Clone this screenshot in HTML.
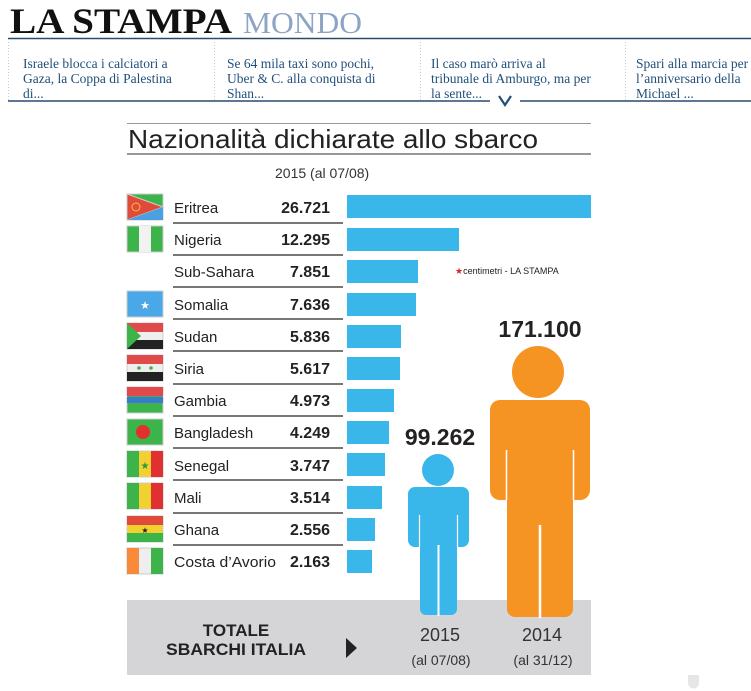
<!DOCTYPE html>
<html><head><meta charset="utf-8"><style>
body{margin:0;background:#fff;}
svg{display:block}
</style></head><body>
<svg width="751" height="691" viewBox="0 0 751 691" xmlns="http://www.w3.org/2000/svg">
<rect width="751" height="691" fill="#fff"/>
<!-- header -->
<text x="10" y="33" font-family="Liberation Serif,serif" font-weight="bold" font-size="36" textLength="222" lengthAdjust="spacingAndGlyphs" fill="#111">LA STAMPA</text>
<text x="243" y="33" font-family="Liberation Serif,serif" font-size="31" textLength="119" lengthAdjust="spacingAndGlyphs" fill="#8ea4c4">MONDO</text>
<line x1="8" y1="38.5" x2="751" y2="38.5" stroke="#2a4a6b" stroke-width="1.5"/>
<line x1="8" y1="101" x2="751" y2="101" stroke="#2a4a6b" stroke-width="1.5"/>
<g stroke="#ccc" stroke-dasharray="1,2">
<line x1="8.5" y1="42" x2="8.5" y2="100"/><line x1="214.5" y1="42" x2="214.5" y2="100"/><line x1="420.5" y1="42" x2="420.5" y2="100"/><line x1="625.5" y1="42" x2="625.5" y2="100"/>
</g>
<g font-family="Liberation Serif,serif" font-size="13.5" fill="#1f4f7a">
<text x="23" y="68">Israele blocca i calciatori a</text><text x="23" y="83">Gaza, la Coppa di Palestina</text><text x="23" y="98">di...</text>
<text x="227" y="68">Se 64 mila taxi sono pochi,</text><text x="227" y="83">Uber &amp; C. alla conquista di</text><text x="227" y="98">Shan...</text>
<text x="431" y="68">Il caso marò arriva al</text><text x="431" y="83">tribunale di Amburgo, ma per</text><text x="431" y="98">la sente...</text>
<text x="636" y="68">Spari alla marcia per</text><text x="636" y="83">l’anniversario della</text><text x="636" y="98">Michael ...</text>
</g>
<rect x="490" y="92" width="30" height="18" fill="#fff"/>
<path d="M499 96 L505 105 L511 96" fill="none" stroke="#1f4f7a" stroke-width="2.2"/>
<!-- chart title -->
<line x1="127" y1="123.5" x2="591" y2="123.5" stroke="#999"/>
<text x="128" y="148" font-family="Liberation Sans,sans-serif" font-size="26" textLength="410" lengthAdjust="spacingAndGlyphs" fill="#222">Nazionalità dichiarate allo sbarco</text>
<line x1="127" y1="154" x2="591" y2="154" stroke="#777" stroke-width="1.5"/>
<text x="275" y="178" font-family="Liberation Sans,sans-serif" font-size="14" fill="#333">2015 (al 07/08)</text>
<text x="455" y="274" font-family="Liberation Sans,sans-serif" font-size="9" fill="#222"><tspan fill="#d22">★</tspan>centimetri - LA STAMPA</text>
<!-- rows -->
<g font-family="Liberation Sans,sans-serif" font-size="15" fill="#222">
<text x="174" y="213">Eritrea</text><text x="174" y="245">Nigeria</text><text x="174" y="277">Sub-Sahara</text><text x="174" y="310">Somalia</text><text x="174" y="342">Sudan</text><text x="174" y="374">Siria</text><text x="174" y="406">Gambia</text><text x="174" y="438">Bangladesh</text><text x="174" y="471">Senegal</text><text x="174" y="503">Mali</text><text x="174" y="535">Ghana</text><text x="174" y="567" textLength="102" lengthAdjust="spacingAndGlyphs">Costa d’Avorio</text>
</g>
<g font-family="Liberation Sans,sans-serif" font-size="16" font-weight="bold" fill="#222" text-anchor="end">
<text x="330" y="213">26.721</text><text x="330" y="245">12.295</text><text x="330" y="277">7.851</text><text x="330" y="310">7.636</text><text x="330" y="342">5.836</text><text x="330" y="374">5.617</text><text x="330" y="406">4.973</text><text x="330" y="438">4.249</text><text x="330" y="471">3.747</text><text x="330" y="503">3.514</text><text x="330" y="535">2.556</text><text x="330" y="567">2.163</text>
</g>
<g stroke="#777" stroke-width="2">
<line x1="173" y1="223" x2="343" y2="223"/><line x1="173" y1="255" x2="343" y2="255"/><line x1="173" y1="287" x2="343" y2="287"/><line x1="173" y1="319" x2="343" y2="319"/><line x1="173" y1="351" x2="343" y2="351"/><line x1="173" y1="384" x2="343" y2="384"/><line x1="173" y1="416" x2="343" y2="416"/><line x1="173" y1="448" x2="343" y2="448"/><line x1="173" y1="480" x2="343" y2="480"/><line x1="173" y1="513" x2="343" y2="513"/><line x1="173" y1="545" x2="343" y2="545"/>
</g>
<g fill="#3ab7ea">
<rect x="347" y="195" width="244" height="23"/><rect x="347" y="228" width="112" height="23"/><rect x="347" y="260" width="71" height="23"/><rect x="347" y="293" width="69" height="23"/><rect x="347" y="325" width="54" height="23"/><rect x="347" y="357" width="53" height="23"/><rect x="347" y="389" width="47" height="23"/><rect x="347" y="421" width="42" height="23"/><rect x="347" y="453" width="38" height="23"/><rect x="347" y="486" width="35" height="23"/><rect x="347" y="518" width="28" height="23"/><rect x="347" y="550" width="25" height="23"/>
</g>
<!-- flags -->
<g stroke="#ccc" stroke-width="1">
<g transform="translate(127,194)"><rect width="36" height="26" fill="#4aa0e0"/><polygon points="0,0 36,0 36,13" fill="#3cb44a"/><polygon points="0,0 36,13 0,26" fill="#e04a3a"/><polygon points="0,26 36,13 36,26" fill="#4aa0e0" stroke="none"/><circle cx="9" cy="13" r="4" fill="none" stroke="#f4c030"/></g>
<g transform="translate(127,226)"><rect width="36" height="26" fill="#3cb44a"/><rect x="12" width="12" height="26" fill="#f2f2f2" stroke="none"/></g>
<g transform="translate(127,291)"><rect width="36" height="26" fill="#4aa8e8"/><text x="18" y="18" font-size="11" fill="#fff" text-anchor="middle" stroke="none">★</text></g>
<g transform="translate(127,323)"><rect width="36" height="26" fill="#eee"/><rect width="36" height="9" fill="#e04a4a" stroke="none"/><rect y="17" width="36" height="9" fill="#222" stroke="none"/><polygon points="0,0 14,13 0,26" fill="#3cb44a" stroke="none"/></g>
<g transform="translate(127,355)"><rect width="36" height="26" fill="#eee"/><rect width="36" height="9" fill="#e04a4a" stroke="none"/><rect y="17" width="36" height="9" fill="#222" stroke="none"/><circle cx="12" cy="13" r="1.8" fill="#3cb44a" stroke="none"/><circle cx="24" cy="13" r="1.8" fill="#3cb44a" stroke="none"/></g>
<g transform="translate(127,387)"><rect width="36" height="26" fill="#3cb44a"/><rect width="36" height="9" fill="#e04a4a" stroke="none"/><rect y="10" width="36" height="6" fill="#3a7ad0" stroke="none"/></g>
<g transform="translate(127,419)"><rect width="36" height="26" fill="#3cb44a"/><circle cx="16" cy="13" r="7" fill="#e03030" stroke="none"/></g>
<g transform="translate(127,451)"><rect width="36" height="26" fill="#f2d030"/><rect width="12" height="26" fill="#3cb44a" stroke="none"/><rect x="24" width="12" height="26" fill="#e03030" stroke="none"/><text x="18" y="18" font-size="10" fill="#2a9a3a" text-anchor="middle" stroke="none">★</text></g>
<g transform="translate(127,483)"><rect width="36" height="26" fill="#f2d030"/><rect width="12" height="26" fill="#3cb44a" stroke="none"/><rect x="24" width="12" height="26" fill="#e03030" stroke="none"/></g>
<g transform="translate(127,516)"><rect width="36" height="26" fill="#f2d030"/><rect width="36" height="9" fill="#e04a3a" stroke="none"/><rect y="17" width="36" height="9" fill="#3cb44a" stroke="none"/><text x="18" y="17" font-size="8" fill="#222" text-anchor="middle" stroke="none">★</text></g>
<g transform="translate(127,548)"><rect width="36" height="26" fill="#eee"/><rect width="12" height="26" fill="#f88a3a" stroke="none"/><rect x="24" width="12" height="26" fill="#3cb44a" stroke="none"/></g>
</g>
<!-- bottom box -->
<rect x="127" y="600" width="464" height="75" fill="#d5d5d7"/>
<g font-family="Liberation Sans,sans-serif" font-weight="bold" font-size="17" fill="#222" text-anchor="middle">
<text x="236" y="636">TOTALE</text><text x="236" y="655" textLength="140" lengthAdjust="spacingAndGlyphs">SBARCHI ITALIA</text>
</g>
<polygon points="346,638 357,648 346,658" fill="#222"/>
<g font-family="Liberation Sans,sans-serif" fill="#333" text-anchor="middle">
<text x="440" y="641" font-size="18">2015</text><text x="441" y="665" font-size="14">(al 07/08)</text>
<text x="542" y="641" font-size="18">2014</text><text x="543" y="665" font-size="14">(al 31/12)</text>
</g>
<!-- figures -->
<g fill="#3ab7ea">
<circle cx="438" cy="470" r="16"/>
<rect x="408" y="487" width="61" height="60" rx="7"/>
<rect x="420" y="500" width="37" height="115" rx="6"/>
</g>
<line x1="438.5" y1="545" x2="438.5" y2="616" stroke="#fff" stroke-width="2"/>
<line x1="415" y1="515" x2="415" y2="547" stroke="#3ab7ea" stroke-width="1"/>
<g fill="#f59323">
<circle cx="538" cy="372" r="26"/>
<rect x="490" y="400" width="100" height="100" rx="10"/>
<rect x="507" y="420" width="66" height="197" rx="8"/>
</g>
<line x1="540" y1="525" x2="540" y2="618" stroke="#fff" stroke-width="2.5"/>
<line x1="506.5" y1="450" x2="506.5" y2="500" stroke="#fff" stroke-width="1.5"/>
<line x1="573.5" y1="450" x2="573.5" y2="500" stroke="#fff" stroke-width="1.5"/>
<line x1="419.5" y1="515" x2="419.5" y2="547" stroke="#fff" stroke-width="1.2"/>
<line x1="457.5" y1="515" x2="457.5" y2="547" stroke="#fff" stroke-width="1.2"/>
<g font-family="Liberation Sans,sans-serif" font-weight="bold" fill="#222" text-anchor="middle">
<text x="440" y="445" font-size="23">99.262</text>
<text x="540" y="337" font-size="23">171.100</text>
</g>
<path d="M688 675 h11 v8 a5.5 5.5 0 0 1 -11 0 z" fill="#e6e6e6"/>
</svg>
</body></html>
